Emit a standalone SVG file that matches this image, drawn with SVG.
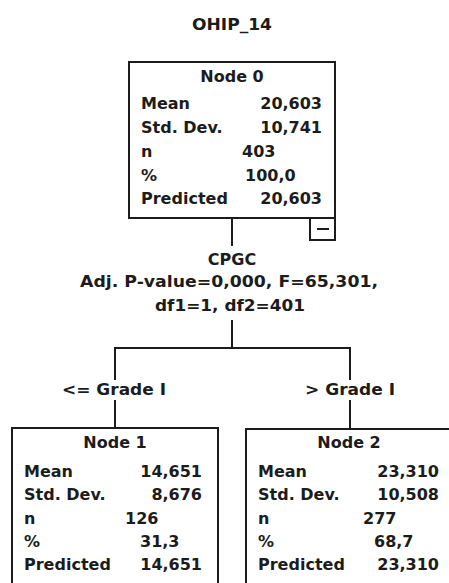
<svg xmlns="http://www.w3.org/2000/svg" width="449" height="583" viewBox="0 0 449 583">
<style>
text{font-family:"DejaVu Sans","Liberation Sans",sans-serif;font-weight:bold;font-size:16px;fill:#1c1c1c}
.c{text-anchor:middle}
.r{text-anchor:end}
.box{fill:#fff;stroke:#1c1c1c;stroke-width:2}
.ln{fill:none;stroke:#1c1c1c;stroke-width:2}
</style>
<rect width="449" height="583" fill="#fff"/>
<text class="c" x="232" y="30" textLength="80" lengthAdjust="spacingAndGlyphs">OHIP_14</text>
<g id="connectors">
<line class="ln" x1="232" y1="219" x2="232" y2="246"/>
<line class="ln" x1="232" y1="320" x2="232" y2="348"/>
<polyline class="ln" points="115,380 115,348 350,348 350,380"/>
<line class="ln" x1="115" y1="400" x2="115" y2="428"/>
<line class="ln" x1="350" y1="400" x2="350" y2="429"/>
<text class="c" x="232" y="265">CPGC</text>
<text class="c" x="229" y="287" textLength="298" lengthAdjust="spacingAndGlyphs">Adj. P-value=0,000, F=65,301,</text>
<text class="c" x="230" y="311" textLength="150" lengthAdjust="spacingAndGlyphs">df1=1, df2=401</text>
<text class="c" x="114" y="395" textLength="104" lengthAdjust="spacingAndGlyphs">&lt;= Grade I</text>
<text class="c" x="350" y="395" textLength="90" lengthAdjust="spacingAndGlyphs">&gt; Grade I</text>
</g>
<g id="node0">
<rect class="box" x="129" y="62" width="206" height="156"/>
<rect class="box" x="310" y="218" width="25" height="22"/>
<line class="ln" x1="317" y1="229" x2="329" y2="229"/>
<text class="c" x="232" y="82">Node 0</text>
<text x="141" y="109">Mean</text><text class="r" x="322" y="109">20,603</text>
<text x="141" y="132.5">Std. Dev.</text><text class="r" x="322" y="132.5">10,741</text>
<text x="141" y="157">n</text><text x="242" y="157">403</text>
<text x="141" y="181">%</text><text x="245" y="181">100,0</text>
<text x="141" y="204">Predicted</text><text class="r" x="322" y="204">20,603</text>
</g>
<g id="node1">
<rect class="box" x="12" y="428" width="206" height="200"/>
<text class="c" x="115" y="448">Node 1</text>
<text x="24" y="477">Mean</text><text class="r" x="202" y="477">14,651</text>
<text x="24" y="500">Std. Dev.</text><text class="r" x="202" y="500">8,676</text>
<text x="24" y="523.5">n</text><text x="125" y="523.5">126</text>
<text x="24" y="547">%</text><text x="140" y="547">31,3</text>
<text x="24" y="570">Predicted</text><text class="r" x="202" y="570">14,651</text>
</g>
<g id="node2">
<rect class="box" x="246" y="429" width="206" height="200"/>
<text class="c" x="349" y="448">Node 2</text>
<text x="258" y="477">Mean</text><text class="r" x="439" y="477">23,310</text>
<text x="258" y="500">Std. Dev.</text><text class="r" x="439" y="500">10,508</text>
<text x="258" y="523.5">n</text><text x="363" y="523.5">277</text>
<text x="258" y="547">%</text><text x="374" y="547">68,7</text>
<text x="258" y="570">Predicted</text><text class="r" x="439" y="570">23,310</text>
</g>
</svg>
